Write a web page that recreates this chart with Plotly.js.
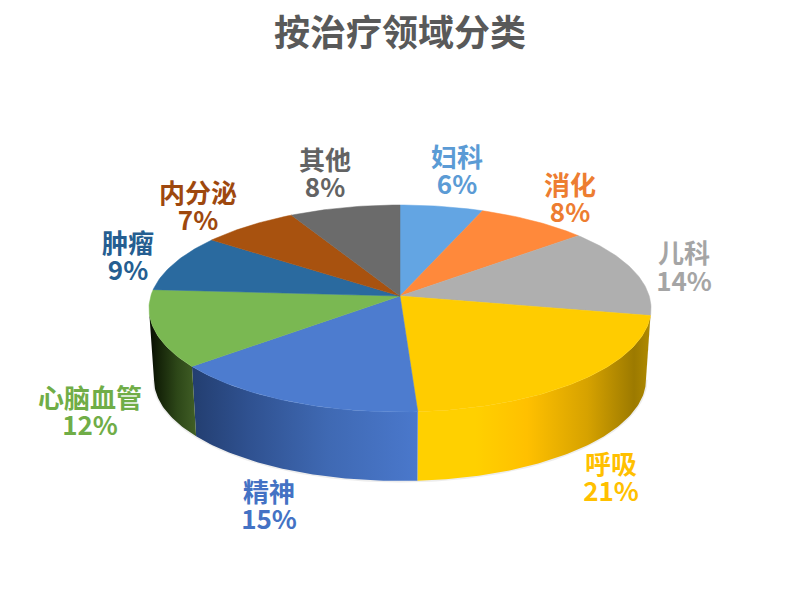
<!DOCTYPE html>
<html>
<head>
<meta charset="utf-8">
<script src="https://cdn.plot.ly/plotly-3.0.1.min.js"></script>
<style>html,body{margin:0;padding:0;background:#fff}#chart{width:800px;height:600px}</style>
</head>
<body>
<div id="chart"></div>
<script>
// Data
const categories = ['妇科','消化','儿科','呼吸','精神','心脑血管','肿瘤','内分泌','其他'];
const shares = [6,8,14,21,15,12,9,7,8];
const titleText = '按治疗领域分类';

// Styles
const topColors = ['#63a5e3','#ff893b','#afafaf','#ffcc00','#4d7ccf','#7ab852','#2a6a9f','#a8520f','#6b6b6b'];
const labelColors = ['#5b9bd5','#ed7d31','#a5a5a5','#ffc000','#4472c4','#70ad47','#255e91','#9e480e','#636363'];
const wallScales = {
  2: [[0,'#9a7f2a'],[1,'#8c8c8c']],
  3: [[0,'#ffd000'],[0.25,'#ffd000'],[0.47,'#ffc000'],[0.73,'#d6a200'],[0.93,'#9c7a00'],[1,'#b08a00']],
  4: [[0,'#233e70'],[0.25,'#2f5190'],[0.6,'#3f69b3'],[1,'#4a78cc']],
  5: [[0,'#060c02'],[0.2,'#142208'],[0.6,'#2d4718'],[1,'#415f26']]
};
const labelX = [457,570,684,611,269,90,128,198,325];
const nameY  = [160,188,256,467,495,401,246,196,163];
const pctY   = [187,215,284,494,522,428,273,223,190];

// Projection of the tilted disc onto the page
const disc = {cx:400, cy:296, R:249.2, A:102, k:0.1208};
const base = {cy:367.3, s:0.98};
const project = (deg, plane) => {
  const t = deg*Math.PI/180, u = Math.sin(t), v = Math.cos(t), w = 1+disc.k*v;
  const s = plane==='base' ? base.s : 1, cy = plane==='base' ? base.cy : disc.cy;
  return [disc.cx + s*disc.R*u/w, cy - s*disc.A*v/w];
};
const total = shares.reduce((a,b)=>a+b,0);
let run = 0;
const spans = shares.map(v => { const a = run/total*360; run += v; return [a, run/total*360]; });
const arc = (a,b,plane) => {
  const pts = [], n = Math.max(2,Math.ceil((b-a)));
  for (let i=0;i<=n;i++) pts.push(project(a+(b-a)*i/n, plane));
  return pts;
};
// Angles at which the disc's outline turns from the back half to the front half
const silhouette = Math.acos(-disc.k)*180/Math.PI;
const frontFrom = silhouette, frontTo = 360-silhouette;

const traces = [];
// Faint halo under the base
const halo = arc(frontFrom,frontTo,'base');
traces.push({type:'scatter',mode:'lines',x:halo.map(p=>p[0]),y:halo.map(p=>p[1]),
  line:{width:3,color:'rgba(0,0,0,0.07)'},hoverinfo:'skip',showlegend:false});
// Walls (only the part of each slice in the front half)
spans.forEach((sp,i) => {
  if (!wallScales[i]) return;
  const a = Math.max(sp[0],frontFrom), b = Math.min(sp[1],frontTo);
  if (b <= a) return;
  const pts = arc(a,b,'top').concat(arc(a,b,'base').reverse());
  pts.push(pts[0]);
  traces.push({type:'scatter',mode:'lines',x:pts.map(p=>p[0]),y:pts.map(p=>p[1]),
    fill:'toself',fillgradient:{type:'horizontal',colorscale:wallScales[i]},
    line:{width:0},hoverinfo:'skip',showlegend:false});
});
// Top faces
spans.forEach((sp,i) => {
  const pts = [[disc.cx,disc.cy]].concat(arc(sp[0],sp[1],'top'));
  pts.push(pts[0]);
  traces.push({type:'scatter',mode:'lines',x:pts.map(p=>p[0]),y:pts.map(p=>p[1]),
    fill:'toself',fillcolor:topColors[i],line:{width:0.5,color:topColors[i]},
    hoverinfo:'skip',showlegend:false});
});
// Labels
const labelFont = {family:'"Noto Sans CJK SC","Noto Sans",sans-serif',size:26,color:labelColors};
traces.push({type:'scatter',mode:'text',x:labelX,y:nameY,text:categories.map(c=>'<b>'+c+'</b>'),
  textposition:'middle center',textfont:labelFont,hoverinfo:'skip',showlegend:false});
traces.push({type:'scatter',mode:'text',x:labelX,y:pctY,text:shares.map(v=>'<b>'+v+'%</b>'),
  textposition:'middle center',textfont:labelFont,hoverinfo:'skip',showlegend:false});

const hidden = {visible:false,fixedrange:true};
Plotly.newPlot('chart',traces,{
  width:800,height:600,margin:{l:0,r:0,t:0,b:0},showlegend:false,
  paper_bgcolor:'#fff',plot_bgcolor:'#fff',
  title:{text:'<b>'+titleText+'</b>',x:0.5,xanchor:'center',y:0.945,yanchor:'middle',
    font:{family:'"Noto Sans CJK SC","Noto Sans",sans-serif',size:36,color:'#595959'}},
  xaxis:Object.assign({range:[0,800]},hidden),
  yaxis:Object.assign({range:[600,0]},hidden)
},{displayModeBar:false,staticPlot:true});
</script>
</body>
</html>
